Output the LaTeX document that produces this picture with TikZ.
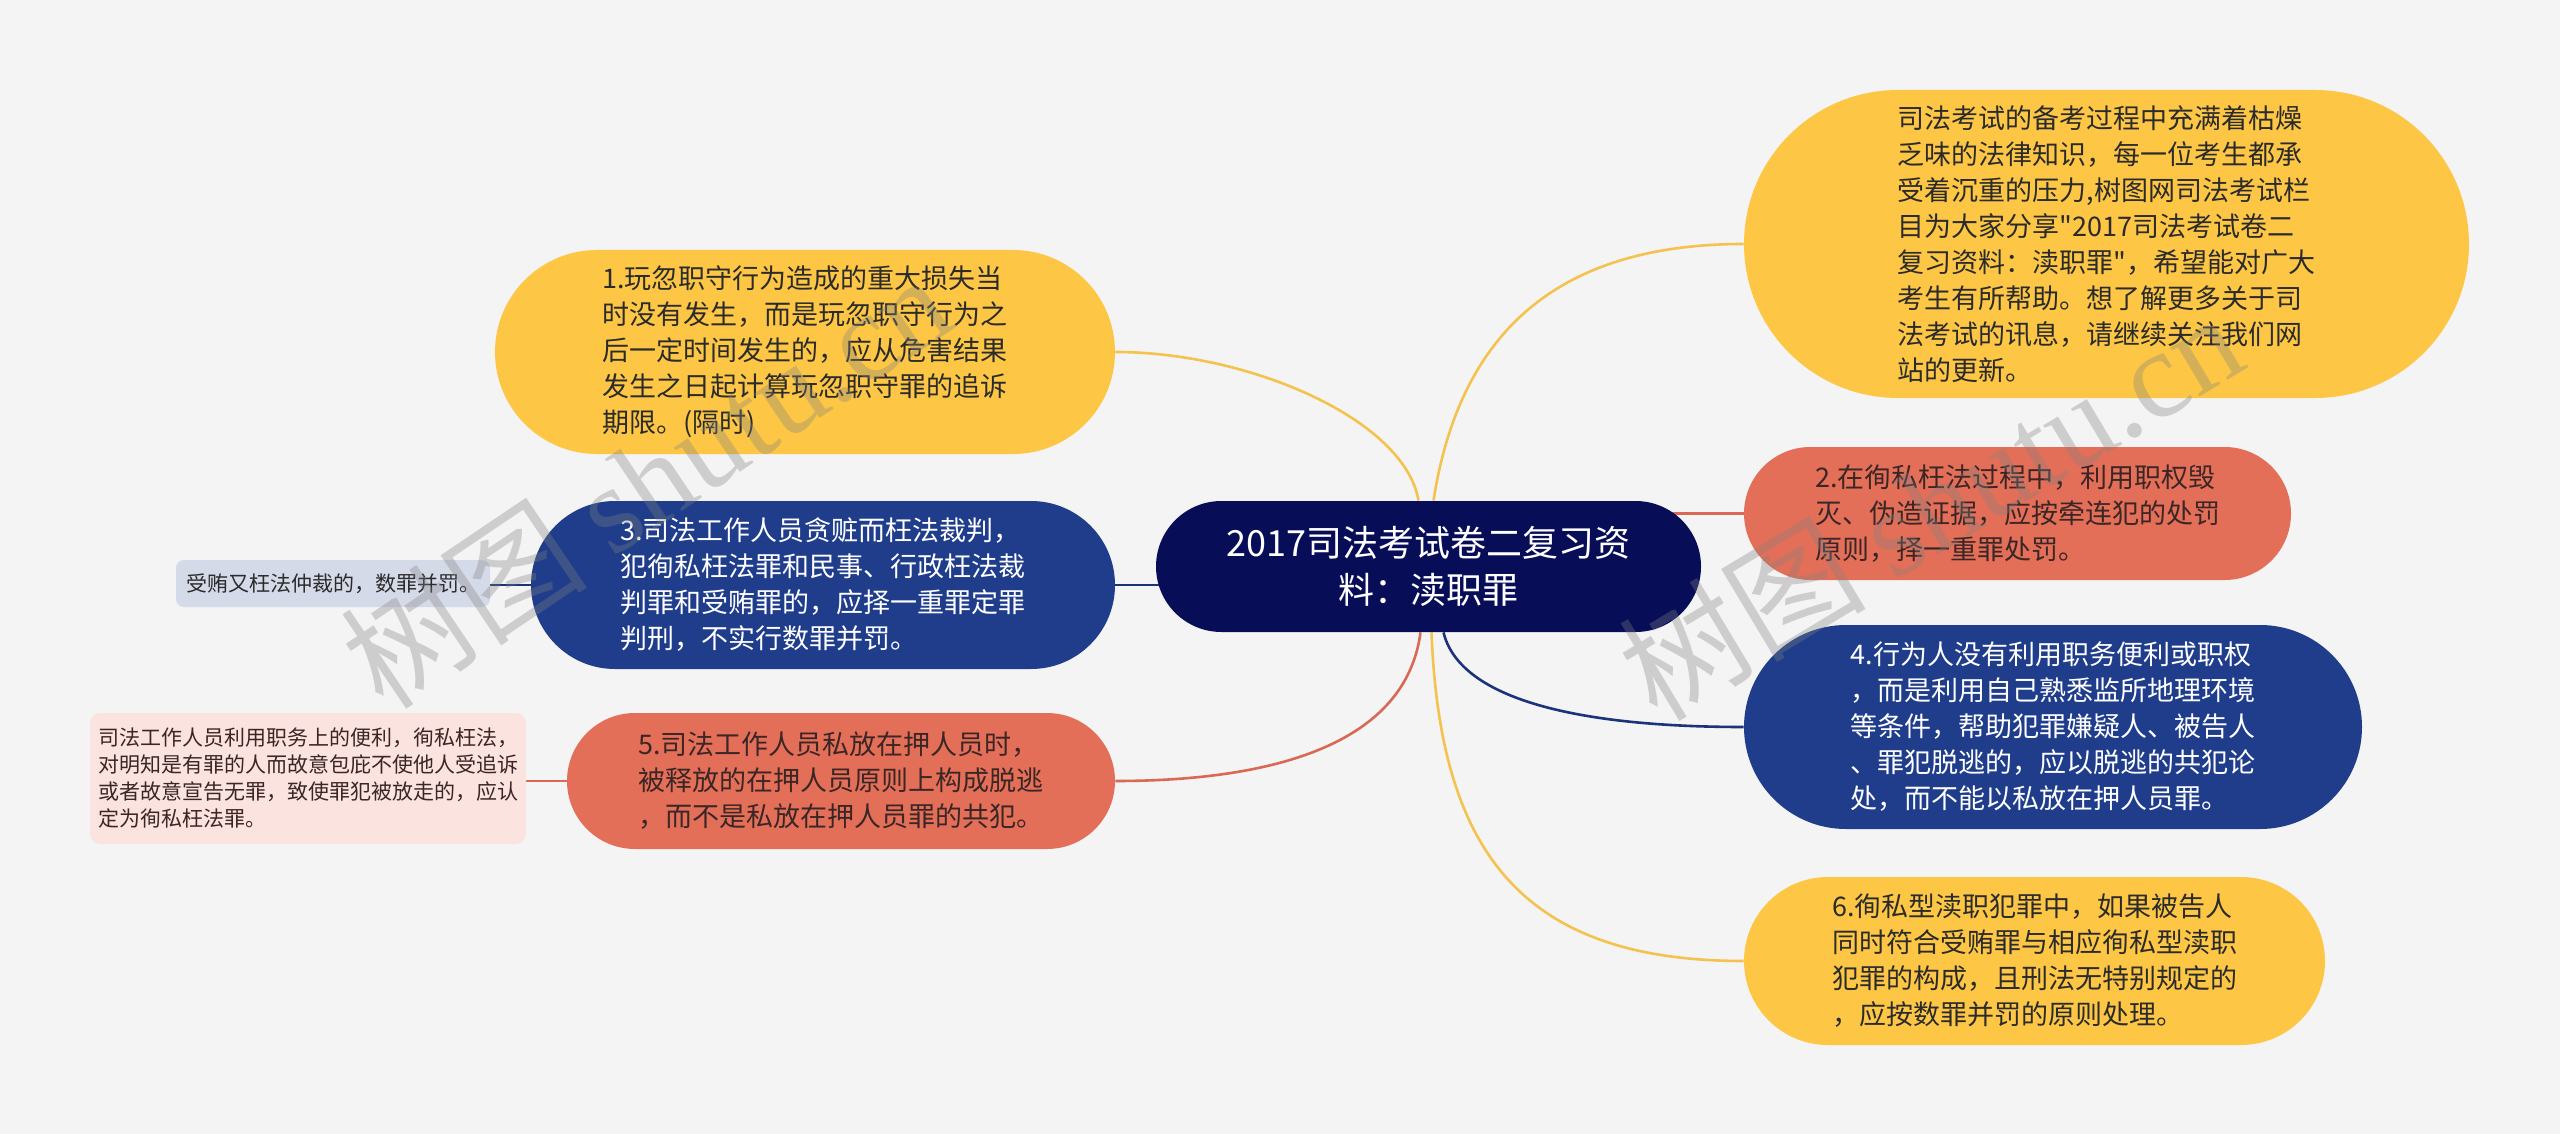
\documentclass[tikz,border=0pt]{standalone}
\usepackage{fontspec}
\setmainfont{Noto Sans CJK SC}[Ligatures=TeXOff]
\newfontfamily\wmlatin{Liberation Serif}
\usetikzlibrary{calc}
\pgfdeclarelayer{bg}
\pgfdeclarelayer{wm}
\pgfsetlayers{bg,main,wm}
\definecolor{bgc}{HTML}{F4F4F4}
\definecolor{ylwf}{HTML}{FDC745}
\definecolor{coralf}{HTML}{E46F58}
\definecolor{bluef}{HTML}{1F3D8A}
\definecolor{navyf}{HTML}{080D58}
\definecolor{leafblue}{HTML}{D5DAE9}
\definecolor{leafpink}{HTML}{FBE4DF}
\definecolor{ylwl}{HTML}{F4C24E}
\definecolor{corall}{HTML}{D96955}
\definecolor{bluel}{HTML}{1B3378}
\definecolor{darktxt}{HTML}{2B2B2B}
\definecolor{coraltxt}{HTML}{3A2626}
\begin{document}
\begin{tikzpicture}[x=0.5pt,y=-0.5pt,
  base/.style={inner sep=0pt, align=left, draw=none},
  maintxt/.style={font=\fontsize{13.5}{18}\selectfont},
  ybox/.style={base, maintxt, fill=ylwf, text=darktxt},
  cbox/.style={base, maintxt, fill=coralf, text=coraltxt},
  bbox/.style={base, maintxt, fill=bluef, text=white},
  conn/.style={line width=1.3pt},
  wmark/.style={text=gray, opacity=0.33, font=\fontsize{62}{66}\selectfont}
]
\useasboundingbox (0,0) rectangle (2560,1134);

% central node
\node[base, fill=navyf, text=white, font=\fontsize{18}{23.5}\selectfont,
  minimum width=272.5pt, minimum height=65.5pt, rounded corners=32.75pt, align=center]
  (C) at (1428.5,566.5) {2017司法考试卷二复习资\\料：渎职罪};

% left side
\node[ybox, minimum width=310pt, minimum height=102pt, rounded corners=51pt]
  (n1) at (805,352) {1.玩忽职守行为造成的重大损失当\\时没有发生，而是玩忽职守行为之\\后一定时间发生的，应从危害结果\\发生之日起计算玩忽职守罪的追诉\\期限。(隔时)};
\node[bbox, minimum width=292pt, minimum height=84pt, rounded corners=42pt]
  (n3) at (823,585) {3.司法工作人员贪赃而枉法裁判，\\犯徇私枉法罪和民事、行政枉法裁\\判罪和受贿罪的，应择一重罪定罪\\判刑，不实行数罪并罚。};
\node[cbox, minimum width=274pt, minimum height=68pt, rounded corners=34pt]
  (n5) at (841,781) {5.司法工作人员私放在押人员时，\\被释放的在押人员原则上构成脱逃\\，而不是私放在押人员罪的共犯。};

% leaves
\node[base, fill=leafblue, text=darktxt, font=\fontsize{10.5}{13.5}\selectfont,
  minimum width=157pt, minimum height=23.5pt, rounded corners=4pt]
  (l3) at (333,583.5) {受贿又枉法仲裁的，数罪并罚。};
\node[base, fill=leafpink, text=coraltxt, font=\fontsize{10.5}{13.5}\selectfont,
  minimum width=218pt, minimum height=65.5pt, rounded corners=5pt]
  (l5) at (308,778.5) {司法工作人员利用职务上的便利，徇私枉法，\\对明知是有罪的人而故意包庇不使他人受追诉\\或者故意宣告无罪，致使罪犯被放走的，应认\\定为徇私枉法罪。};

% right side
\node[ybox, minimum width=362.5pt, minimum height=154pt, rounded corners=77pt]
  (tr) at (2106.5,244) {司法考试的备考过程中充满着枯燥\\乏味的法律知识，每一位考生都承\\受着沉重的压力,树图网司法考试栏\\目为大家分享"2017司法考试卷二\\复习资料：渎职罪"，希望能对广大\\考生有所帮助。想了解更多关于司\\法考试的讯息，请继续关注我们网\\站的更新。};
\node[cbox, minimum width=273.5pt, minimum height=66.5pt, rounded corners=33.25pt]
  (n2) at (2017.5,513.5) {2.在徇私枉法过程中，利用职权毁\\灭、伪造证据，应按牵连犯的处罚\\原则，择一重罪处罚。};
\node[bbox, minimum width=309pt, minimum height=102pt, rounded corners=51pt]
  (n4) at (2053,727) {4.行为人没有利用职务便利或职权\\，而是利用自己熟悉监所地理环境\\等条件，帮助犯罪嫌疑人、被告人\\、罪犯脱逃的，应以脱逃的共犯论\\处，而不能以私放在押人员罪。};
\node[ybox, minimum width=290.5pt, minimum height=84pt, rounded corners=42pt]
  (n6) at (2034.5,961) {6.徇私型渎职犯罪中，如果被告人\\同时符合受贿罪与相应徇私型渎职\\犯罪的构成，且刑法无特别规定的\\，应按数罪并罚的原则处理。};

\begin{pgfonlayer}{bg}
  \fill[bgc] (0,0) rectangle (2560,1134);
  % right connectors
  \draw[conn, ylwl] ($(C.north)+(5,0)$) .. controls (1460,330) and (1560,244) .. (tr.west);
  \draw[conn, corall] (n2.west) -- (n2.west -| C.center);
  \draw[conn, bluel] ($(C.south)+(15,0)$) .. controls (1460,700) and (1580,727) .. (n4.west);
  \draw[conn, ylwl] ($(C.south)+(3,0)$) .. controls (1440,850) and (1520,961) .. (n6.west);
  % left connectors
  \draw[conn, ylwl] ($(C.north)+(-10,0)$) .. controls (1405,420) and (1250,352) .. (n1.east);
  \draw[conn, bluel] (n3.east) -- (n3.east -| C.center);
  \draw[conn, corall] ($(C.south)+(-8,0)$) .. controls (1405,750) and (1260,781) .. (n5.east);
  % leaf connectors
  \draw[conn, bluel] (l3.east |- n3.west) -- (n3.west);
  \draw[conn, corall] (l5.east |- n5.west) -- (n5.west);
\end{pgfonlayer}

\begin{pgfonlayer}{wm}
  \node[wmark, rotate=34] (wm1) at (645,480) {树图 {\wmlatin shutu.cn}};
  \node[wmark, rotate=31] (wm2) at (1930,505) {树图 {\wmlatin shutu.cn}};
\end{pgfonlayer}
\end{tikzpicture}
\end{document}
